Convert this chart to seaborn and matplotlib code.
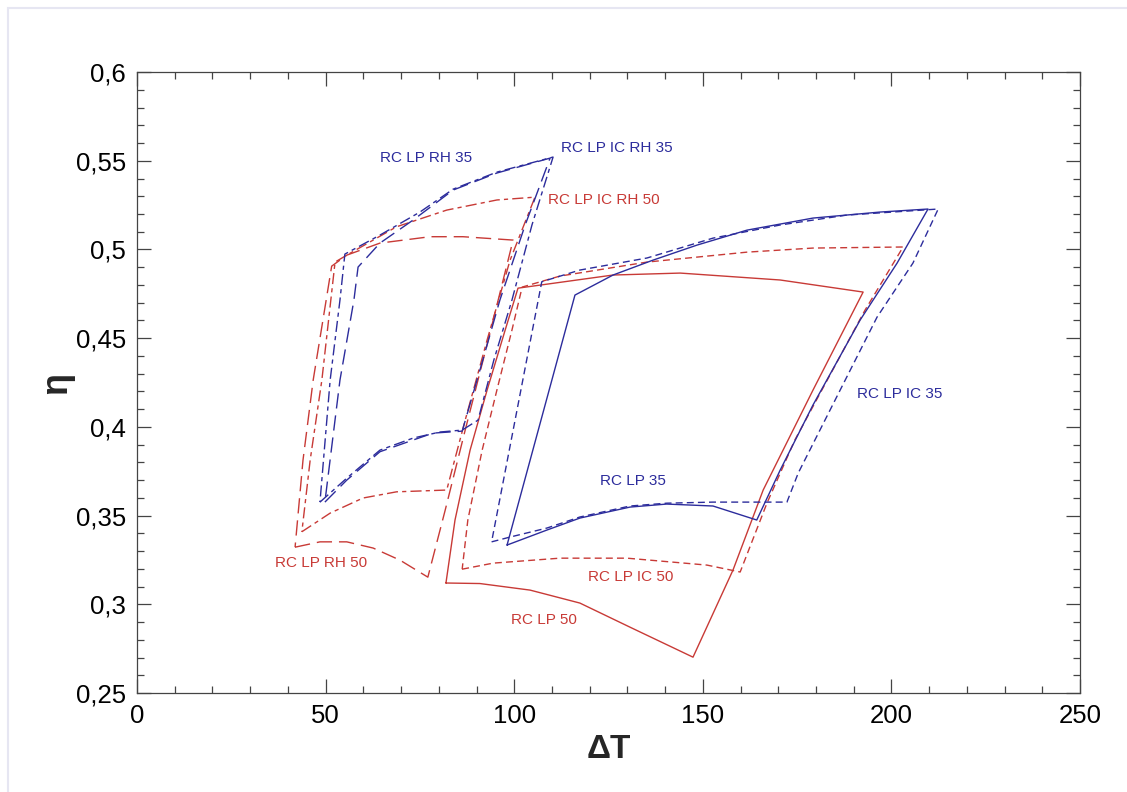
import numpy as np
import pandas as pd
import matplotlib
matplotlib.use("Agg")
import matplotlib.pyplot as plt
from matplotlib.ticker import MultipleLocator, FuncFormatter
from matplotlib.patches import Rectangle
import seaborn as sns

# --- curve data, each a closed loop ---
# right group (no RH)
lp50_x = [81.9, 90.9, 104.2, 117.4, 130.7, 147.4, 158.0, 166.0, 179.2, 192.5, 170.5, 144.0, 126.2, 101.0, 97.6, 92.8, 88.3, 84.3]
lp50_y = [0.312, 0.3117, 0.308, 0.3007, 0.2871, 0.2702, 0.3193, 0.3644, 0.4207, 0.476, 0.4828, 0.4867, 0.4856, 0.4782, 0.4546, 0.4207, 0.3869, 0.3475]

lpic50_x = [86.2, 94.4, 112.1, 129.9, 151.1, 159.9, 167.0, 174.4, 183.7, 193.0, 203.1, 179.2, 161.7, 135.2, 112.1, 102.1, 99.4, 95.4, 91.5, 87.7]
lpic50_y = [0.3198, 0.3232, 0.326, 0.326, 0.3221, 0.3182, 0.357, 0.3926, 0.4292, 0.4658, 0.5014, 0.5008, 0.4985, 0.4929, 0.485, 0.4788, 0.4546, 0.4207, 0.3869, 0.3475]

lp35_x = [98.1, 108.6, 117.4, 130.7, 140.4, 152.7, 164.3, 170.5, 179.2, 191.7, 201.5, 209.7, 197.0, 179.2, 161.7, 148.5, 136.8, 126.2, 116.1]
lp35_y = [0.3334, 0.3418, 0.3486, 0.3548, 0.3565, 0.3554, 0.3475, 0.3756, 0.4123, 0.4602, 0.4923, 0.5228, 0.5211, 0.5177, 0.5109, 0.5025, 0.494, 0.4856, 0.4743]

lpic35_x = [94.0, 98.9, 108.7, 117.4, 130.7, 140.5, 152.7, 172.3, 175.3, 186.4, 196.2, 205.7, 212.4, 188.2, 170.5, 152.7, 135.2, 117.4, 107.3]
lpic35_y = [0.3352, 0.3379, 0.343, 0.3492, 0.3554, 0.357, 0.3576, 0.3576, 0.374, 0.4207, 0.4619, 0.4923, 0.5228, 0.5194, 0.5138, 0.5064, 0.4952, 0.4884, 0.4818]

# left group (RH)
lprh50_x = [41.9, 48.5, 55.6, 62.6, 69.7, 77.1, 81.7, 87.0, 93.1, 99.7, 86.4, 77.7, 64.4, 55.6, 51.6, 46.7, 44.0]
lprh50_y = [0.3322, 0.3352, 0.3352, 0.3317, 0.3249, 0.3153, 0.3531, 0.3982, 0.4489, 0.5053, 0.5072, 0.5072, 0.5036, 0.4968, 0.4906, 0.4264, 0.3813]

lpicrh50_x = [43.7, 51.2, 59.9, 68.8, 82.1, 87.0, 92.8, 98.9, 105.5, 95.4, 82.1, 68.8, 55.6, 52.5, 49.0, 45.9]
lpicrh50_y = [0.3409, 0.3514, 0.3599, 0.3634, 0.3644, 0.4038, 0.4489, 0.494, 0.5295, 0.5279, 0.5222, 0.5128, 0.4968, 0.4929, 0.4264, 0.3813]

lprh35_x = [49.8, 55.6, 64.4, 73.2, 78.5, 86.2, 90.9, 96.2, 102.9, 109.5, 95.4, 83.8, 73.2, 64.4, 58.6, 57.5, 53.8]
lprh35_y = [0.3576, 0.37, 0.386, 0.3926, 0.3965, 0.3976, 0.432, 0.4715, 0.5138, 0.5515, 0.5431, 0.5335, 0.5166, 0.5036, 0.4901, 0.4715, 0.4264]

lpicrh35_x = [48.5, 55.6, 64.4, 73.2, 80.3, 86.2, 90.4, 94.6, 99.4, 104.7, 110.3, 95.4, 83.8, 75.0, 64.4, 55.1, 53.8, 51.2]
lpicrh35_y = [0.3576, 0.3711, 0.3869, 0.3937, 0.3971, 0.3982, 0.4038, 0.4377, 0.4715, 0.5138, 0.5521, 0.5436, 0.534, 0.5211, 0.5081, 0.4974, 0.4715, 0.4264]

labels = ["RC LP RH 35", "RC LP IC RH 35", "RC LP IC RH 50", "RC LP IC 35",
          "RC LP 35", "RC LP RH 50", "RC LP IC 50", "RC LP 50"]
label_x = [64.5, 112.4, 109.0, 190.9, 122.7, 36.6, 119.6, 99.2]
label_y = [0.5515, 0.557, 0.528, 0.4185, 0.3694, 0.3232, 0.3153, 0.2911]

red = "#c83a36"
blue = "#2c2c9c"
label_colors = [blue, blue, red, blue, blue, red, red, red]

sns.set_style("ticks")
plt.rcParams['font.family'] = ['Liberation Sans', 'DejaVu Sans']

fig = plt.figure(figsize=(11.27, 7.92), dpi=100)
ax = fig.add_axes([0.1216, 0.125, 0.9583 - 0.1216, 0.909 - 0.125])

curves = [
    (lp50_x, lp50_y, red, "-"),
    (lpic50_x, lpic50_y, red, (0, (5, 3))),
    (lp35_x, lp35_y, blue, "-"),
    (lpic35_x, lpic35_y, blue, (0, (5, 3))),
    (lprh50_x, lprh50_y, red, (0, (11, 5))),
    (lpicrh50_x, lpicrh50_y, red, (0, (8, 3, 3, 3))),
    (lprh35_x, lprh35_y, blue, (0, (11, 5))),
    (lpicrh35_x, lpicrh35_y, blue, (0, (8, 3, 3, 3))),
]
for xs, ys, col, ls in curves:
    xs = list(xs) + [xs[0]]
    ys = list(ys) + [ys[0]]
    sns.lineplot(x=xs, y=ys, sort=False, estimator=None, color=col,
                 linestyle=ls, linewidth=1.0, ax=ax)

for t, lx, ly, c in zip(labels, label_x, label_y, label_colors):
    ax.text(lx, ly, t, color=c, fontsize=11, ha="left", va="center")

ax.set_xlim(0, 250)
ax.set_ylim(0.25, 0.6)
ax.xaxis.set_major_locator(MultipleLocator(50))
ax.xaxis.set_minor_locator(MultipleLocator(10))
ax.yaxis.set_major_locator(MultipleLocator(0.05))
ax.yaxis.set_minor_locator(MultipleLocator(0.01))
ax.yaxis.set_major_formatter(FuncFormatter(lambda v, p: f"{v:.2f}".rstrip("0").replace(".", ",")))
ax.tick_params(which="both", direction="in", top=True, right=True, color="#444444", width=0.9)
ax.tick_params(which="major", length=10, labelsize=18.5, pad=8, labelcolor="black")
ax.tick_params(which="minor", length=5)
for s in ax.spines.values():
    s.set_color("#444444")
    s.set_linewidth(0.9)

ax.set_xlabel("ΔT", fontsize=24, fontweight="bold", labelpad=4)
ax.set_ylabel("η", fontsize=26, fontweight="bold", labelpad=1)

fig.patches.append(Rectangle((8 / 1127, -0.01), 1.0, 1 - 8 / 792 + 0.01, transform=fig.transFigure,
                             fill=False, edgecolor="#e6e6f2", linewidth=1.5))

fig.savefig("out.png", dpi=100)
